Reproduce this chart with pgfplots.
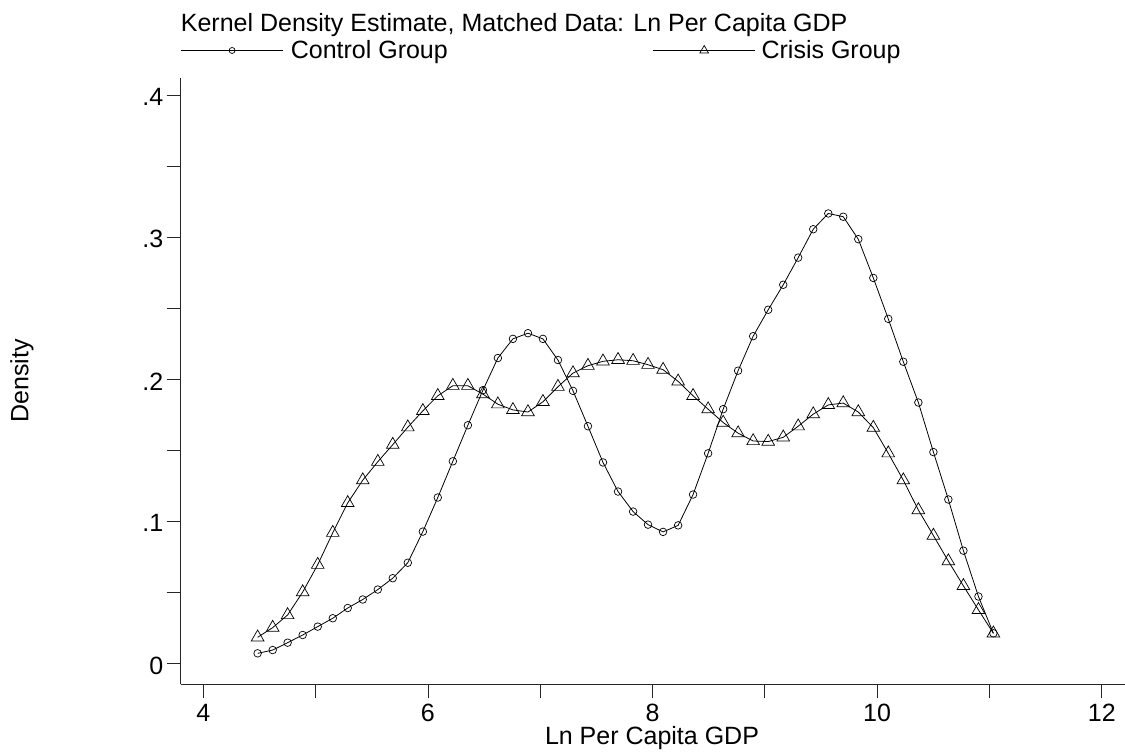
\documentclass[border=0pt]{standalone}
\usepackage{fontspec}
\setmainfont{Liberation Sans}
\usepackage{pgfplots}
\usepackage{pgfplotstable}
\pgfplotsset{compat=1.18}
\pgfplotstableread{
x y
4.484 0.0071
4.618 0.0094
4.751 0.0146
4.885 0.0200
5.019 0.0259
5.153 0.0318
5.286 0.0390
5.420 0.0450
5.554 0.0520
5.687 0.0600
5.821 0.0709
5.955 0.0928
6.088 0.1168
6.222 0.1423
6.356 0.1677
6.490 0.1924
6.623 0.2150
6.757 0.2285
6.891 0.2325
7.024 0.2285
7.158 0.2136
7.292 0.1919
7.425 0.1670
7.559 0.1415
7.693 0.1210
7.827 0.1069
7.960 0.0977
8.094 0.0926
8.228 0.0972
8.361 0.1189
8.495 0.1479
8.629 0.1790
8.762 0.2061
8.896 0.2304
9.030 0.2490
9.164 0.2666
9.297 0.2857
9.431 0.3057
9.565 0.3168
9.698 0.3145
9.832 0.2987
9.966 0.2714
10.099 0.2426
10.233 0.2124
10.367 0.1837
10.501 0.1488
10.634 0.1154
10.768 0.0794
10.902 0.0471
11.035 0.0212
}\control
\pgfplotstableread{
x y
4.484 0.0184
4.618 0.0252
4.751 0.0341
4.885 0.0502
5.019 0.0695
5.153 0.0920
5.286 0.1130
5.420 0.1290
5.554 0.1420
5.687 0.1540
5.821 0.1663
5.955 0.1778
6.088 0.1884
6.222 0.1955
6.356 0.1955
6.490 0.1896
6.623 0.1825
6.757 0.1785
6.891 0.1770
7.024 0.1842
7.158 0.1948
7.292 0.2044
7.425 0.2096
7.559 0.2127
7.693 0.2138
7.827 0.2131
7.960 0.2103
8.094 0.2068
8.228 0.1986
8.361 0.1884
8.495 0.1790
8.629 0.1696
8.762 0.1621
8.896 0.1566
9.030 0.1562
9.164 0.1592
9.297 0.1670
9.431 0.1755
9.565 0.1820
9.698 0.1833
9.832 0.1770
9.966 0.1660
10.099 0.1480
10.233 0.1290
10.367 0.1080
10.501 0.0900
10.634 0.0720
10.768 0.0546
10.902 0.0377
11.035 0.0212
}\crisis
\begin{document}
\begin{tikzpicture}[x=1bp,y=1bp,font=\fontsize{25bp}{30bp}\selectfont]
\useasboundingbox (0,0) rectangle (1125,754);
\begin{axis}[
  at={(180.7bp,69.5bp)}, anchor=south west,
  scale only axis, width=944.3bp, height=606.2bp,
  xmin=3.799, xmax=12.207, ymin=-0.01484, ymax=0.41197,
  axis x line*=bottom, axis y line*=left,
  axis line style={black!85, line width=0.8bp, -},
  tick align=outside, major tick length=14bp,
  tick style={black!85, line width=0.8bp},
  xtick={4,5,6,7,8,9,10,11,12}, xticklabels={4,,6,,8,,10,,12},
  ytick={0,0.05,0.1,0.15,0.2,0.25,0.3,0.35,0.4},
  yticklabels={0,,.1,,.2,,.3,,.4},
  ticklabel style={font=\fontsize{25bp}{30bp}\selectfont},
  xticklabel style={anchor=north, yshift=-2bp},
  yticklabel style={yshift=-2bp},
  legend style={at={(axis description cs:0,1)}, anchor=south west,
    draw=none, fill=none, inner sep=0pt, outer sep=0pt,
    column sep=0pt, yshift=18bp,
    nodes={inner sep=0pt, font=\fontsize{25bp}{30bp}\selectfont}},
  legend columns=2, legend cell align=left,
]
\addplot[black, line width=0.8bp, mark=o, mark size=3.8bp,
  mark options={solid, line width=0.7bp},
  legend image code/.code={\draw[black, line width=0.8bp, mark=o, mark size=3bp,
    mark options={solid, line width=0.7bp}, mark repeat=2, mark phase=2]
    plot coordinates {(0bp,0bp)(51bp,0bp)(102bp,0bp)};}]
  table[x=x,y=y] {\control};
\addlegendentry{\makebox[369.3bp][l]{\hspace{7.3bp}Control Group}}
\addplot[black, line width=0.8bp, mark=triangle, mark size=7.3bp,
  mark options={solid, line width=0.7bp},
  legend image code/.code={\draw[black, line width=0.8bp, mark=triangle, mark size=5bp,
    mark options={solid, line width=0.7bp}, mark repeat=2, mark phase=2]
    plot coordinates {(0bp,0bp)(51bp,0bp)(102bp,0bp)};}]
  table[x=x,y=y] {\crisis};
\addlegendentry{\hspace{6bp}Crisis Group}
\end{axis}
\node[anchor=base west, inner sep=0pt] at (180.7,722) {Kernel Density Estimate, Matched Data: Ln Per Capita GDP};
\node[anchor=base, inner sep=0pt] at (652,9) {Ln Per Capita GDP};
\node[rotate=90, inner sep=0pt] at (22,373) {Density};
\end{tikzpicture}
\end{document}
